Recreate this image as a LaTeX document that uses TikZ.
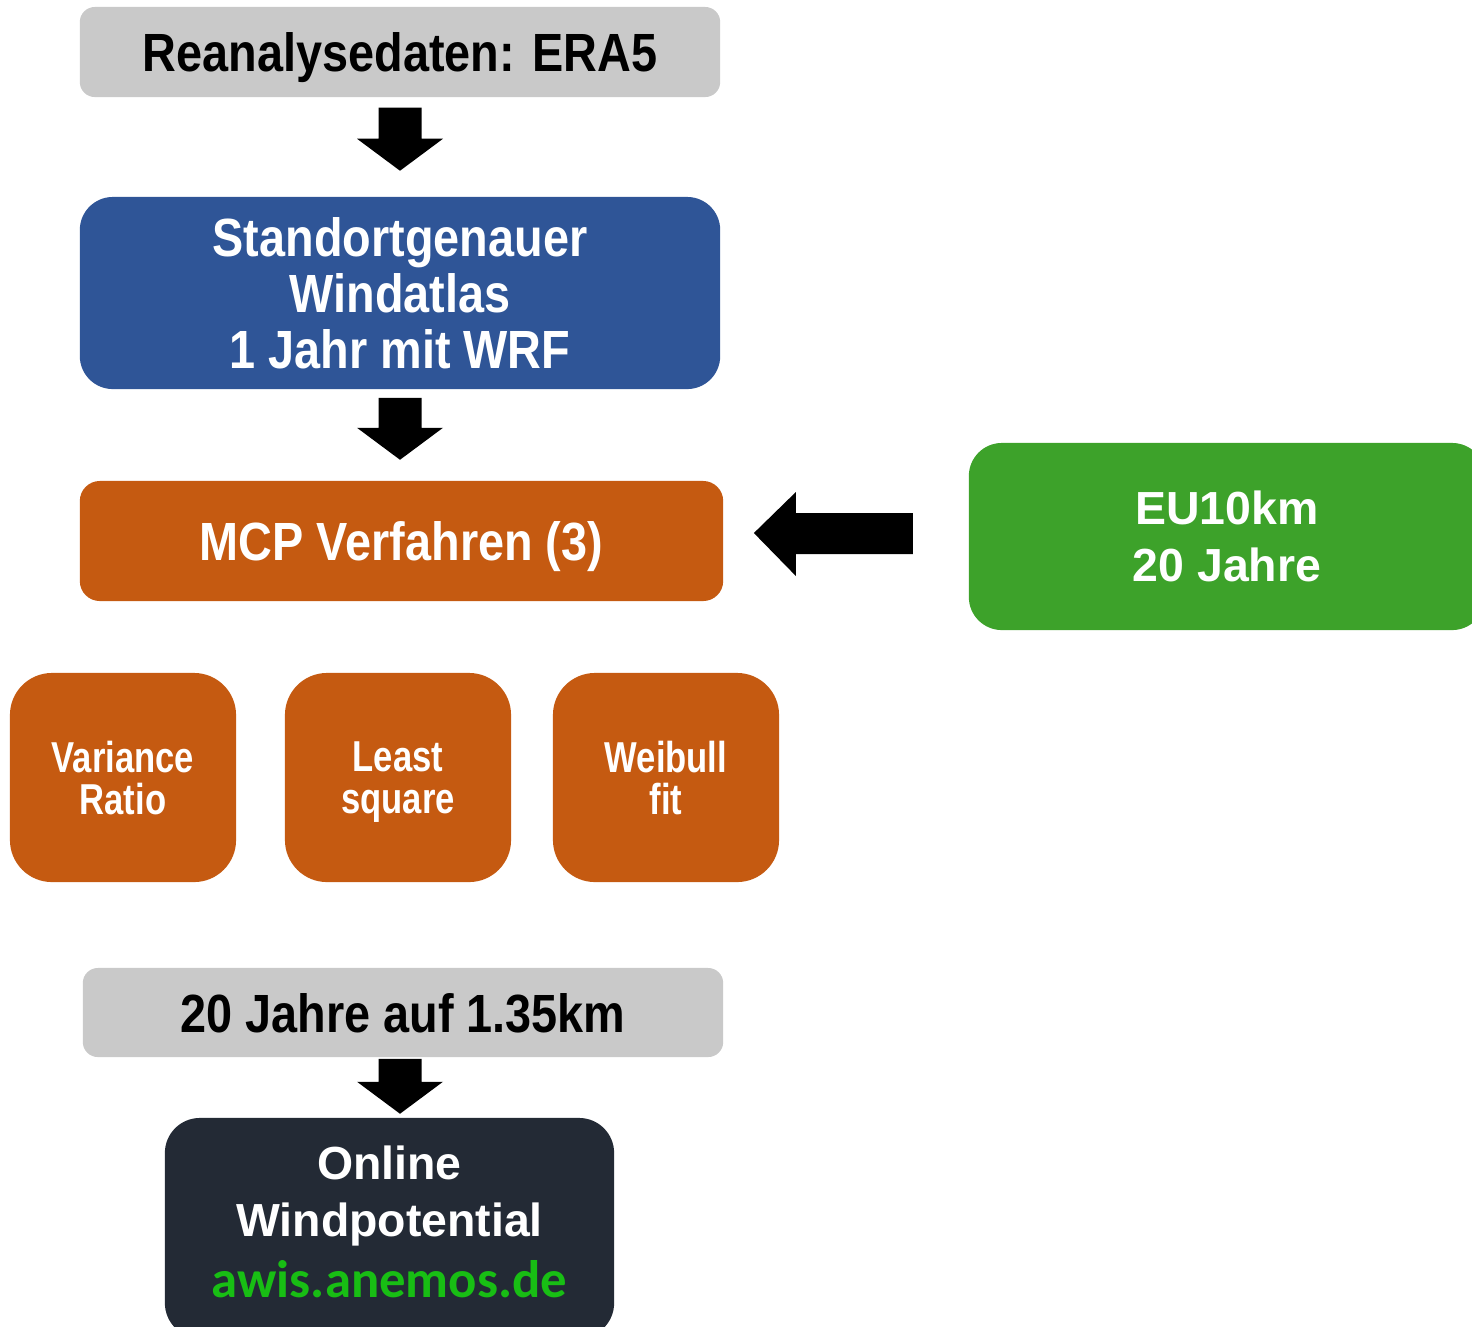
\documentclass[tikz,border=0pt]{standalone}
\usepackage{tikz}
\usepackage{fontspec}
\usetikzlibrary{calc}
\usetikzlibrary{backgrounds}

\setmainfont{Liberation Sans}
\newfontfamily\narrowfont{Liberation Sans}[FakeStretch=0.87]
\newfontfamily\smallnarrow{Liberation Sans}[FakeStretch=0.80]
\newfontfamily\webfont{Carlito}

\definecolor{boxgrey}{RGB}{201,201,201}
\definecolor{wrfblue}{RGB}{47,85,151}
\definecolor{mcporange}{RGB}{197,90,17}
\definecolor{eugreen}{RGB}{61,162,42}
\definecolor{webdark}{RGB}{35,42,53}
\definecolor{linkgreen}{RGB}{24,190,20}

\tikzset{
  stage/.style={inner sep=0pt, align=center, text=white},
  bigtext/.style={font=\narrowfont\bfseries\fontsize{15.3}{15.9}\selectfont, text depth=0pt},
  plaintext/.style={font=\bfseries\fontsize{13.2}{16.2}\selectfont},
  methodtext/.style={font=\smallnarrow\bfseries\fontsize{12.3}{12}\selectfont, text depth=0pt},
  method/.style={stage, methodtext, fill=mcporange, rounded corners=0.42cm,
    minimum width=2.26cm, minimum height=2.09cm}
}

% block arrow pointing down: #1 = top centre, #2 = shaft length
\newcommand{\downblock}[2]{%
  \fill ($(#1)+(-21.5,0)$) -- ++(43,0) -- ++(0,#2) -- ++(21.5,0)
    -- ++(-43,32) -- ++(-43,-32) -- ++(21.5,0) -- cycle;}

\begin{document}
\begin{tikzpicture}[x=0.01cm, y=-0.01cm]
 \useasboundingbox (0,0) rectangle (1472,1326);

 \node[stage, bigtext, text=black, fill=boxgrey, rounded corners=0.15cm,
   minimum width=6.4cm, minimum height=0.9cm] (era) at (400,52)
   {Reanalysedaten: ERA5};
 \node[stage, bigtext, fill=wrfblue, rounded corners=0.33cm,
   minimum width=6.4cm, minimum height=1.92cm] (wrf) at (400,293)
   {Standortgenauer\\Windatlas\\1 Jahr mit WRF};
 \node[stage, bigtext, fill=mcporange, rounded corners=0.2cm,
   minimum width=6.43cm, minimum height=1.2cm] (mcp) at (401.5,541)
   {MCP Verfahren (3)};
 \node[stage, plaintext, fill=eugreen, rounded corners=0.33cm,
   minimum width=5.16cm, minimum height=1.87cm] (eu) at (1227,536.5)
   {EU10km\\20 Jahre};

 \node[method] (var) at (123,777.5) {Variance\\Ratio};
 \node[method] (lsq) at (398,777.5) {Least\\square};
 \node[method] (wei) at (666,777.5) {Weibull\\fit};

 \node[stage, bigtext, text=black, fill=boxgrey, rounded corners=0.15cm,
   minimum width=6.4cm, minimum height=0.89cm] (res) at (403,1012.5)
   {20 Jahre auf 1.35km};
 \node[stage, plaintext, fill=webdark, rounded corners=0.35cm, text depth=3.5pt,
   minimum width=4.49cm, minimum height=2.2cm] (web) at (389.5,1228)
   {Online\\Windpotential\\[1pt]{\webfont\fontsize{15}{16}\selectfont\color{linkgreen}awis.anemos.de}};

 % arrows
 \coordinate (a1) at ($(era.south)+(0,10)$);
 \coordinate (a2) at ($(wrf.south)+(0,8)$);
 \coordinate (a3) at ($(res.south)+(-3,1)$);
 \downblock{a1}{31}
 \downblock{a2}{30}
 \downblock{a3}{23}
 \coordinate (tip) at ($(mcp.east)+(30,-8)$);
 \fill (tip) -- ++(42,-41) -- ++(0,21) -- ++(117,0) -- ++(0,41)
   -- ++(-117,0) -- ++(0,22) -- cycle;
\end{tikzpicture}
\end{document}
